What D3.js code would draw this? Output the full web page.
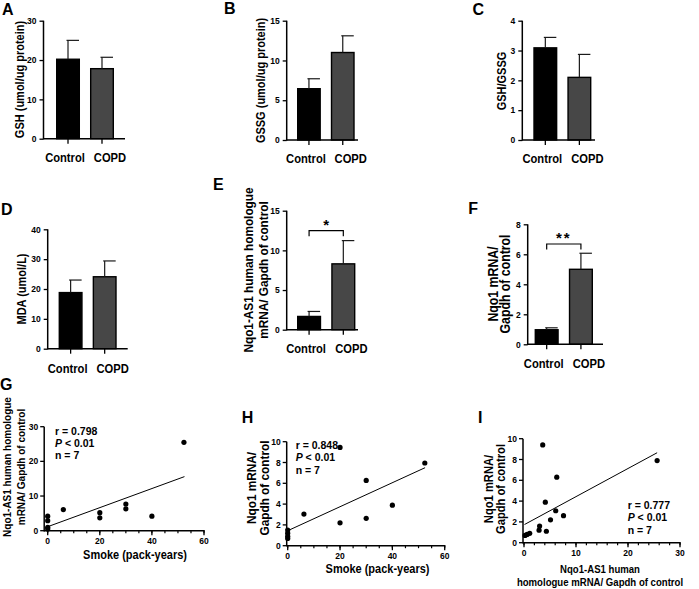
<!DOCTYPE html>
<html>
<head>
<meta charset="utf-8">
<script src="https://cdn.jsdelivr.net/npm/d3@7/dist/d3.min.js"></script>
<style>
  html, body { margin: 0; padding: 0; background: #fff; }
  svg text { font-family: "Liberation Sans", Arial, Helvetica, sans-serif; font-weight: bold; fill: #000; }
</style>
</head>
<body>
<svg id="fig" width="699" height="589"></svg>
<script>
// ---------------- DATA ----------------
const categories = ["Control", "COPD"];

const gshMean  = [20.2, 17.8];   const gshSem  = [4.8, 2.9];
const gssgMean = [6.45, 11.0];   const gssgSem = [1.25, 2.1];
const ratioMean = [3.09, 2.10];  const ratioSem = [0.35, 0.77];
const mdaMean  = [18.8, 24.1];   const mdaSem  = [4.2, 5.3];
const as1Mean  = [1.67, 8.3];    const as1Sem  = [0.63, 2.93];
const nqoMean  = [0.97, 5.0];    const nqoSem  = [0.13, 1.07];

const ticksA = [0, 10, 20, 30];
const ticksB = [0, 5, 10, 15];
const ticksC = [0, 1, 2, 3, 4];
const ticksD = [0, 10, 20, 30, 40];
const ticksE = [0, 5, 10, 15];
const ticksF = [0, 2, 4, 6, 8];

// G: smoke vs Nqo1-AS1
const gSmoke = [0, 0, 0, 0, 6, 20, 20, 30, 30, 40, 52.3];
const gAS1   = [4.2, 2.9, 1.0, 0.5, 6.1, 5.2, 3.7, 7.7, 6.3, 4.2, 25.5];
const gFitX = [0, 52.5], gFitY = [1.15, 15.6];

// H: smoke vs Nqo1
const hSmoke = [0, 0, 0, 0, 6.2, 20, 20, 30, 30, 40, 52.4];
const hNqo1  = [1.5, 1.2, 0.9, 0.7, 3.04, 2.2, 9.45, 6.28, 2.63, 3.9, 7.95];
const hFitX = [0, 52.5], hFitY = [1.44, 7.5];

// I: Nqo1-AS1 vs Nqo1
const iAS1  = [0.2, 0.6, 1.1, 2.9, 3.0, 3.6, 4.1, 4.3, 5.1, 6.1, 6.3, 7.6, 25.6];
const iNqo1 = [0.7, 0.8, 0.9, 1.2, 1.6, 9.4, 3.9, 1.1, 2.2, 3.07, 6.3, 2.6, 7.9];
const iFitX = [0.1, 25.6], iFitY = [1.75, 8.65];

const smokeTicks = [0, 20, 40, 60];
const smokeMinor = d3.range(0, 61, 5);
const gYTicks = [0, 10, 20, 30];
const hYTicks = [0, 2, 4, 6, 8, 10];
const iXTicks = [0, 10, 20, 30];
const iXMinor = d3.range(0, 31, 2);

const statsG = ["r = 0.798", "< 0.01", "n = 7"];
const statsH = ["r = 0.848", "< 0.01", "n = 7"];
const statsI = ["r = 0.777", "< 0.01", "n = 7"];

// ---------------- DRAW ----------------
const svg = d3.select("#fig");
svg.append("rect").attr("width", 699).attr("height", 589).attr("fill", "#fff");

const barFill = ["#000000", "#474747"];
const SQ = 0.88; // condensed look of the figure's font

function ctext(parent, x, y, str, wsize, rot) {
  return parent.append("text")
    .attr("transform", `translate(${x},${y})${rot ? " rotate(-90)" : ""} scale(${SQ},1)`)
    .attr("text-anchor", "middle")
    .attr("font-size", wsize / SQ)
    .text(str);
}

function panelLabel(t, x, y) {
  svg.append("text").attr("x", x).attr("y", y).attr("font-size", 16).text(t);
}

function yTitle(lines, xs, cy, size) {
  lines.forEach((l, i) => ctext(svg, xs[i], cy, l, size, true));
}

function barPanel(cfg) {
  const g = svg.append("g");
  const y = d3.scaleLinear().domain([0, cfg.max]).range([cfg.y0, cfg.yTop]);
  const x = d3.scaleBand().domain(categories).range(cfg.barRange).paddingInner(0.335).paddingOuter(0);

  const yAxis = d3.axisLeft(y).tickValues(cfg.ticks).tickSize(4).tickPadding(3).tickFormat(d3.format("d"));
  const ya = g.append("g").attr("transform", `translate(${cfg.axisX},0)`).call(yAxis);
  ya.select(".domain").remove();
  ya.selectAll(".tick line").attr("stroke", "#000").attr("stroke-width", 1.3);
  ya.selectAll(".tick text").attr("font-size", 8.5).attr("font-family", "Liberation Sans, Arial, sans-serif").attr("font-weight", "bold");
  g.append("line").attr("x1", cfg.axisX).attr("x2", cfg.axisX).attr("y1", y(0) + 0.7).attr("y2", y(cfg.max))
    .attr("stroke", "#000").attr("stroke-width", 1.5);

  g.selectAll("rect.bar").data(cfg.mean).enter().append("rect")
    .attr("x", (d, i) => x(categories[i]))
    .attr("width", x.bandwidth())
    .attr("y", d => y(d))
    .attr("height", d => y(0) - y(d))
    .attr("fill", (d, i) => barFill[i])
    .attr("stroke", "#000").attr("stroke-width", 1.4);

  cfg.mean.forEach((m, i) => {
    const cx = x(categories[i]) + x.bandwidth() / 2;
    g.append("line").attr("x1", cx).attr("x2", cx).attr("y1", y(m)).attr("y2", y(m + cfg.sem[i]))
      .attr("stroke", "#1a1a1a").attr("stroke-width", 1.2);
    g.append("line").attr("x1", cx - 1.5).attr("x2", cx + 11).attr("y1", y(m + cfg.sem[i])).attr("y2", y(m + cfg.sem[i]))
      .attr("stroke", "#1a1a1a").attr("stroke-width", 1.2);
  });

  g.append("line").attr("x1", cfg.axisX).attr("x2", cfg.axisEnd).attr("y1", y(0)).attr("y2", y(0))
    .attr("stroke", "#000").attr("stroke-width", 1.5);
  const dx = [-3, 8];
  categories.forEach((c, i) => {
    const cx = x(c) + x.bandwidth() / 2;
    g.append("line").attr("x1", cx).attr("x2", cx).attr("y1", y(0)).attr("y2", y(0) + 5)
      .attr("stroke", "#000").attr("stroke-width", 1.3);
    ctext(g, cx + dx[i], cfg.labelY, c, 11.2, false);
  });

  if (cfg.sig) {
    const c0 = x(categories[0]) + x.bandwidth() / 2, c1 = x(categories[1]) + x.bandwidth() / 2;
    const by = cfg.sig.y;
    g.append("path").attr("d", `M${c0},${by + 5.5}V${by}H${c1}V${by + 5.5}`)
      .attr("fill", "none").attr("stroke", "#000").attr("stroke-width", 1.2);
    g.append("text").attr("x", (c0 + c1) / 2).attr("y", cfg.sig.ty).attr("text-anchor", "middle")
      .attr("font-size", 15).attr("letter-spacing", cfg.sig.ls || 0).text(cfg.sig.text);
  }
}

function scatterPanel(cfg) {
  const g = svg.append("g");
  const x = d3.scaleLinear().domain(cfg.xDomain).range(cfg.xRange);
  const y = d3.scaleLinear().domain(cfg.yDomain).range([cfg.y0, cfg.yTop]);
  const ax = x(cfg.xDomain[0]) - cfg.axOff;

  g.append("line").attr("x1", ax).attr("x2", ax).attr("y1", y(0) + 0.7).attr("y2", y(cfg.yDomain[1]))
    .attr("stroke", "#000").attr("stroke-width", 1.5);
  g.append("line").attr("x1", ax).attr("x2", x(cfg.xDomain[1]) + 0.7).attr("y1", y(0)).attr("y2", y(0))
    .attr("stroke", "#000").attr("stroke-width", 1.5);

  cfg.yTicks.forEach(t => {
    g.append("line").attr("x1", ax - 4).attr("x2", ax).attr("y1", y(t)).attr("y2", y(t))
      .attr("stroke", "#000").attr("stroke-width", 1.3);
    g.append("text").attr("x", ax - 6).attr("y", y(t) + 3).attr("text-anchor", "end")
      .attr("font-size", 8.5).text(t);
  });
  cfg.xMinor.forEach(t => {
    g.append("line").attr("x1", x(t)).attr("x2", x(t)).attr("y1", y(0)).attr("y2", y(0) + 2.5)
      .attr("stroke", "#000").attr("stroke-width", 1.2);
  });
  cfg.xTicks.forEach(t => {
    g.append("line").attr("x1", x(t)).attr("x2", x(t)).attr("y1", y(0)).attr("y2", y(0) + 4.5)
      .attr("stroke", "#000").attr("stroke-width", 1.3);
    g.append("text").attr("x", x(t)).attr("y", y(0) + 13.5).attr("text-anchor", "middle")
      .attr("font-size", 8.5).text(t);
  });

  g.append("line").attr("x1", x(cfg.fitX[0])).attr("x2", x(cfg.fitX[1]))
    .attr("y1", y(cfg.fitY[0])).attr("y2", y(cfg.fitY[1]))
    .attr("stroke", "#000").attr("stroke-width", 1);

  g.selectAll("circle").data(cfg.xs).enter().append("circle")
    .attr("cx", d => x(d)).attr("cy", (d, i) => y(cfg.ys[i])).attr("r", 2.6).attr("fill", "#000");

  cfg.stats.forEach((s, i) => {
    const t = g.append("text").attr("x", cfg.statX).attr("y", cfg.statY + i * 12.4).attr("font-size", 10.5);
    if (i === 1) {
      t.append("tspan").attr("font-style", "italic").text("P");
      t.append("tspan").text(" " + s);
    } else t.text(s);
  });
}

// ---- Panel A
panelLabel("A", 2, 14.5);
yTitle(["GSH (umol/ug protein)"], [24], 79.5, 11);
barPanel({ mean: gshMean, sem: gshSem, max: 30, ticks: ticksA, axisX: 43.5, axisEnd: 125,
  barRange: [56.7, 113.3], y0: 138.7, yTop: 20.7, labelY: 161.5 });

// ---- Panel B
panelLabel("B", 224, 14);
yTitle(["GSSG (umol/ug protein)"], [265], 80.5, 11);
barPanel({ mean: gssgMean, sem: gssgSem, max: 15, ticks: ticksB, axisX: 286.7, axisEnd: 358,
  barRange: [297.7, 354], y0: 140, yTop: 20.7, labelY: 163 });

// ---- Panel C
panelLabel("C", 472.5, 14.5);
yTitle(["GSH/GSSG"], [505.5], 81, 11);
barPanel({ mean: ratioMean, sem: ratioSem, max: 4, ticks: ticksC, axisX: 522.3, axisEnd: 595,
  barRange: [534, 590.7], y0: 140, yTop: 20.7, labelY: 163 });

// ---- Panel D
panelLabel("D", 1, 215);
yTitle(["MDA (umol/L)"], [25.5], 289, 11);
barPanel({ mean: mdaMean, sem: mdaSem, max: 40, ticks: ticksD, axisX: 47.7, axisEnd: 127.7,
  barRange: [59.3, 116], y0: 348.7, yTop: 229.3, labelY: 373 });

// ---- Panel E
panelLabel("E", 213, 190);
yTitle(["Nqo1-AS1 human homologue", "mRNA/ Gapdh of control"], [252.5, 267.5], 270, 11.8);
barPanel({ mean: as1Mean, sem: as1Sem, max: 15, ticks: ticksE, axisX: 286.7, axisEnd: 358,
  barRange: [297.7, 354.7], y0: 329.7, yTop: 210.7, labelY: 353,
  sig: { y: 230.7, ty: 230, text: "*" } });

// ---- Panel F
panelLabel("F", 468.3, 214);
yTitle(["Nqo1 mRNA/", "Gapdh of control"], [497.5, 509.5], 284, 12.3);
barPanel({ mean: nqoMean, sem: nqoSem, max: 8, ticks: ticksF, axisX: 527.7, axisEnd: 603,
  barRange: [535.3, 592.3], y0: 344.3, yTop: 224.3, labelY: 368,
  sig: { y: 244, ty: 243, text: "**", ls: 2 } });

// ---- Panel G
panelLabel("G", 0, 390);
yTitle(["Nqo1-AS1 human homologue", "mRNA/ Gapdh of control"], [10.5, 24.5], 467, 10);
scatterPanel({ xs: gSmoke, ys: gAS1, xDomain: [0, 60], xRange: [47.7, 204], yDomain: [0, 30],
  y0: 530.7, yTop: 426.7, axOff: 3.5, yTicks: gYTicks, xTicks: smokeTicks, xMinor: smokeMinor,
  fitX: gFitX, fitY: gFitY, stats: statsG, statX: 55, statY: 434.5 });
ctext(svg, 135, 558.5, "Smoke (pack-years)", 11, false);

// ---- Panel H
panelLabel("H", 241.7, 423);
yTitle(["Nqo1 mRNA/", "Gapdh of control"], [256, 268.5], 488, 11.8);
scatterPanel({ xs: hSmoke, ys: hNqo1, xDomain: [0, 60], xRange: [287.7, 444.7], yDomain: [0, 10],
  y0: 545.7, yTop: 441.7, axOff: 1, yTicks: hYTicks, xTicks: smokeTicks, xMinor: smokeMinor,
  fitX: hFitX, fitY: hFitY, stats: statsH, statX: 295.7, statY: 448.7 });
ctext(svg, 377.5, 573.3, "Smoke (pack-years)", 11, false);

// ---- Panel I
panelLabel("I", 478, 423);
yTitle(["Nqo1 mRNA/", "Gapdh of control"], [493, 505], 489, 11.2);
scatterPanel({ xs: iAS1, ys: iNqo1, xDomain: [0, 30], xRange: [524, 680], yDomain: [0, 10],
  y0: 542.7, yTop: 438.7, axOff: 1, yTicks: hYTicks, xTicks: iXTicks, xMinor: iXMinor,
  fitX: iFitX, fitY: iFitY, stats: statsI, statX: 627.7, statY: 508.7 });
ctext(svg, 600, 572.5, "Nqo1-AS1 human", 9.6, false);
ctext(svg, 600, 585.5, "homologue mRNA/ Gapdh of control", 9.6, false);
</script>
</body>
</html>
